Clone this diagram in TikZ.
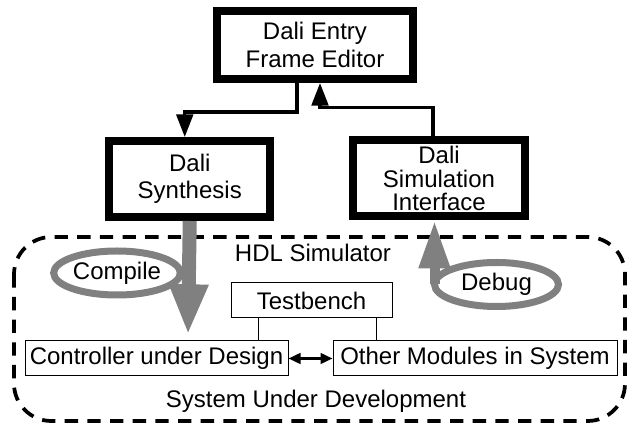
\documentclass[tikz,border=0pt]{standalone}
\usepackage{fontspec}
\setmainfont{Liberation Sans}
\usetikzlibrary{arrows.meta,shapes.geometric}
\definecolor{loopgray}{RGB}{128,128,128}

\begin{document}
\begin{tikzpicture}[x=0.75pt,y=0.75pt,yscale=-1,xscale=1,
	font=\fontsize{18}{20.5}\selectfont,
	bigbox/.style={draw,line width=6pt,align=center,inner sep=0pt,minimum height=57pt},
	smallbox/.style={draw,line width=0.75pt,inner sep=0pt,minimum height=26.25pt},
	flow/.style={line width=2.4pt,-{Triangle[length=17pt,width=12.5pt]}},
	loopring/.style={draw=loopgray,line width=5.25pt,ellipse,inner sep=0pt,outer sep=0pt,minimum height=33pt},
	bigarrow/.style={draw=loopgray,-{Triangle[length=38pt,width=27pt]}}]
	\path[use as bounding box] (0,0) rectangle (629,427);
	
	%Shape: HDL simulator frame
	\draw  [line width=2.8pt,dash pattern=on 10pt off 7pt,rounded corners=28pt]  (14,237) rectangle (625,421) ;
	
	% Dali tools
	\node [bigbox,minimum width=147pt,minimum height=51pt] (entry) at (315,45) {Dali Entry\\Frame Editor};
	\node [bigbox,minimum width=121pt] (synth) at (189.75,179) {Dali\\Synthesis};
	\node [bigbox,minimum width=129pt,font=\fontsize{18}{17.6}\selectfont] (sim) at (439,178.5) {Dali\\Simulation\\Interface};
	
	%Straight Lines: entry to synthesis and simulation back to entry
	\draw  [flow]  ([xshift=-13.5pt]entry.south) -- ++(0,29) -| ([xshift=-3.75pt]synth.north) ;
	\draw  [flow]  ([xshift=-4.5pt]sim.north) -- ++(0,-29) -| ([xshift=3.75pt]entry.south) ;
	
	% Text Node
	\node (hdl) at (313,253) {HDL Simulator};
	% Text Node
	\node (sud) at (316,401) {System Under Development};
	
	% System boxes
	\node [smallbox,minimum width=120.75pt] (tb) at (311.5,300.5) {Testbench};
	\node [smallbox,minimum width=197.25pt] (ctrl) at (156.5,358.5) {Controller under Design};
	\node [smallbox,minimum width=213pt] (other) at (475,358.5) {Other Modules in System};
	\draw  [line width=0.75pt]  ([xshift=-39.4pt]tb.south) -- ([xshift=-39.4pt]tb.south |- ctrl.north) ;
	\draw  [line width=0.75pt]  ([xshift=49pt]tb.south) -- ([xshift=49pt]tb.south |- other.north) ;
	\draw  [line width=1.8pt,{Triangle[length=9pt,width=8pt]}-{Triangle[length=9pt,width=8pt]}]  (ctrl.east) -- (other.west) ;
	
	%Compile loop
	\node [loopring,minimum width=95pt] (compile) at (117,273) {Compile};
	\coordinate (cdtip) at (188,335);
	\draw  [bigarrow,line width=10.5pt]  (synth.south) -- (cdtip) ;
	
	%Debug loop
	\node [loopring,minimum width=93pt] (debug) at (496.5,284.5) {Debug};
	\draw  [bigarrow,line width=7.5pt,-{Triangle[length=36pt,width=22pt]}]  (debug.west) -- (debug.west |- sim.south) ;
	
\end{tikzpicture}
\end{document}
